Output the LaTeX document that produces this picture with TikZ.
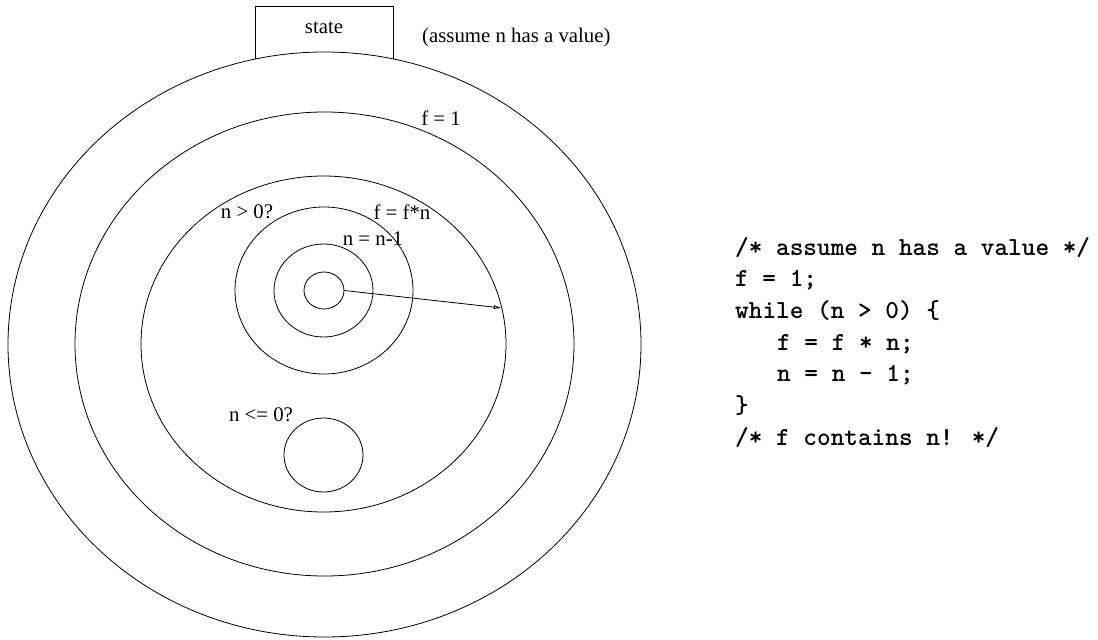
\documentclass[tikz,border=0pt]{standalone}
\usepackage{fontspec}
\setmainfont{Liberation Serif}
\usetikzlibrary{shapes.geometric,arrows.meta}
\tikzset{
  ring/.style={draw, ellipse, inner sep=0pt, line width=0.8pt},
  lbl/.style={font=\fontsize{20.8}{24}\selectfont, inner sep=0pt},
  code/.style={font=\fontsize{26}{31.7}\ttfamily\bfseries, inner sep=0pt, anchor=base west},
}
\begin{document}
\begin{tikzpicture}[x=1pt,y=-1pt]
\useasboundingbox (0,0) rectangle (1098,640);
% rings
\node[ring, minimum width=633pt, minimum height=585pt] (e1) at (324.5,344.5) {};
\node[ring, minimum width=499pt, minimum height=464pt] (e2) at (324.5,344) {};
\node[ring, minimum width=365pt, minimum height=336pt] (e3) at (323.5,344) {};
\node[ring, minimum width=178pt, minimum height=167pt] (c1) at (324,290.5) {};
\node[ring, minimum width=99pt, minimum height=93pt] (c2) at (323.5,290.5) {};
\node[ring, minimum width=40pt, minimum height=37pt] (c3) at (324,290.5) {};
\node[ring, minimum width=79pt, minimum height=74pt] (c4) at (323.5,455) {};
% state box
\coordinate (bl) at (255,59.2);
\coordinate (br) at (393,59.2);
\draw[line width=0.8pt] (bl) -- (255,6) -- (393,6) -- (br);
\node[lbl] (state) at (324,28) {state};
\node[lbl, anchor=west] (assume) at (422,37) {(assume n has a value)};
% labels
\node[lbl] (f1) at (441,118) {f = 1};
\node[lbl] (ngt) at (247,212) {n > 0?};
\node[lbl] (ffn) at (402,212) {f = f*n};
\node[lbl] (nn1) at (373,239) {n = n-1};
\node[lbl] (nle) at (261,415) {n <= 0?};
% arrow
\coordinate (tip) at (501.8,308);
\draw[line width=0.8pt, -{Latex[open,length=8pt,width=4pt]}] (c3.east) -- (tip);
% code
\node[code] (l1) at (735,255) {/* assume n has a value */};
\node[code] (l2) at (735,286.7) {f = 1;};
\node[code] (l3) at (735,318.4) {while (n > 0) \{};
\node[code] (l4) at (777,350.1) {f = f * n;};
\node[code] (l5) at (777,381.8) {n = n - 1;};
\node[code] (l6) at (735,413.5) {\}};
\node[code] (l7) at (735,445.2) {/* f contains n! */};
\end{tikzpicture}
\end{document}
